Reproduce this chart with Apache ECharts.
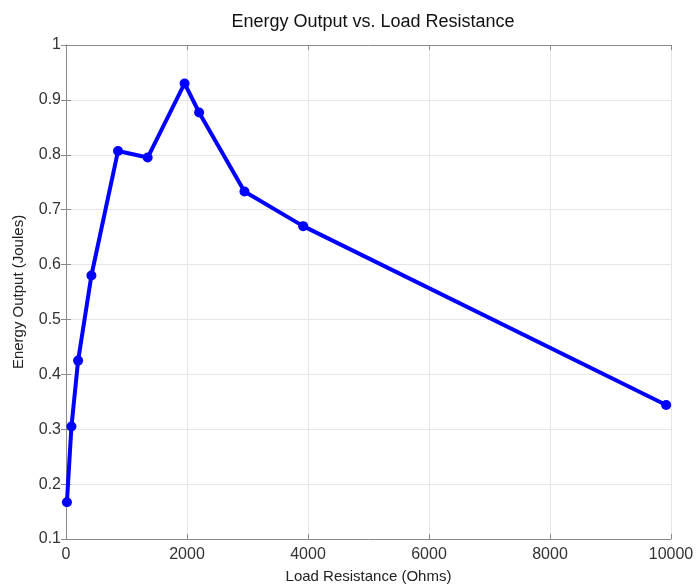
<!DOCTYPE html>
<html>
<head>
<meta charset="utf-8">
<script src="https://cdn.jsdelivr.net/npm/echarts@6/dist/echarts.min.js"></script>
<style>
  html, body { margin: 0; padding: 0; background: #fff; }
  #chart { width: 699px; height: 584px; }
</style>
</head>
<body>
<div id="chart"></div>
<script>
// Load resistance (Ohms) and measured energy output (Joules)
const resistance = [15, 90, 200, 420, 860, 1350, 1960, 2200, 2950, 3920, 9920];
const energy = [0.167, 0.305, 0.425, 0.580, 0.807, 0.795, 0.930, 0.877, 0.733, 0.670, 0.344];

const titleText = 'Energy Output vs. Load Resistance';
const xName = 'Load Resistance (Ohms)';
const yName = 'Energy Output (Joules)';

const points = resistance.map((r, i) => [r, energy[i]]);

const font = 'Liberation Sans, Arial, Helvetica, sans-serif';
const frameColor = '#8a8a8a';
const gridColor = '#e6e6e6';

const chart = echarts.init(document.getElementById('chart'));
chart.setOption({
  animation: false,
  backgroundColor: '#ffffff',
  title: {
    text: titleText,
    left: 368, top: 8, textAlign: 'center',
    textStyle: { fontFamily: font, fontSize: 18, fontWeight: 'normal', color: '#111' }
  },
  grid: { left: 66, top: 45, right: 28, bottom: 45, containLabel: false, outerBoundsMode: 'none' },
  xAxis: [{
    type: 'value', min: 0, max: 10000, interval: 2000,
    name: xName, nameLocation: 'middle', nameGap: 30,
    nameTextStyle: { fontFamily: font, fontSize: 15, color: '#222' },
    axisLine: { show: true, lineStyle: { color: frameColor, width: 1 } },
    axisTick: { show: true, inside: true, length: 5, lineStyle: { color: frameColor } },
    axisLabel: { fontFamily: font, fontSize: 16, color: '#333', margin: 8, formatter: v => String(v) },
    splitLine: { show: true, lineStyle: { color: gridColor, width: 1 } }
  }, {
    type: 'value', position: 'top', min: 0, max: 10000, interval: 2000,
    axisLine: { show: true, lineStyle: { color: frameColor, width: 1 } },
    axisTick: { show: true, inside: true, length: 5, lineStyle: { color: frameColor } },
    axisLabel: { show: false }, splitLine: { show: false }
  }],
  yAxis: [{
    type: 'value', min: 0.1, max: 1, interval: 0.1,
    name: yName, nameLocation: 'middle', nameGap: 40,
    nameTextStyle: { fontFamily: font, fontSize: 15, color: '#222' },
    axisLine: { show: true, lineStyle: { color: frameColor, width: 1 } },
    axisTick: { show: true, inside: true, length: 5, lineStyle: { color: frameColor } },
    axisLabel: {
      fontFamily: font, fontSize: 16, color: '#333', margin: 5,
      formatter: v => String(parseFloat(v.toFixed(1)))
    },
    splitLine: { show: true, lineStyle: { color: gridColor, width: 1 } }
  }, {
    type: 'value', position: 'right', min: 0.1, max: 1, interval: 0.1,
    axisLine: { show: true, lineStyle: { color: frameColor, width: 1 } },
    axisTick: { show: true, inside: true, length: 5, lineStyle: { color: frameColor } },
    axisLabel: { show: false }, splitLine: { show: false }
  }],
  series: [{
    type: 'line',
    data: points,
    xAxisIndex: 0, yAxisIndex: 0,
    symbol: 'circle', symbolSize: 10,
    lineStyle: { color: '#0000ff', width: 4 },
    itemStyle: { color: '#0000ff' }
  }]
});
</script>
</body>
</html>
